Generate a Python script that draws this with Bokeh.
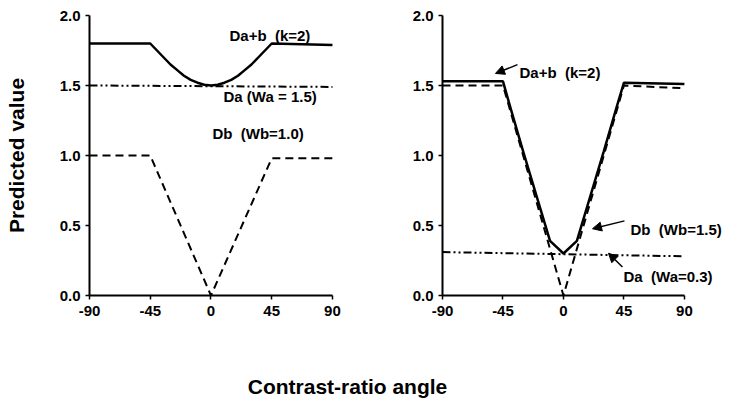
from bokeh.plotting import figure
from bokeh.layouts import row, column
from bokeh.models import Range1d, FixedTicker, Label, Arrow, NormalHead, PrintfTickFormatter
from bokeh.embed import file_html
from bokeh.resources import INLINE

# ---- data ----
x_ticks = [-90, -45, 0, 45, 90]
x_tick_labels = ["-90", "-45", "0", "45", "90"]
y_ticks = [0.0, 0.5, 1.0, 1.5, 2.0]

# left panel
L_sum_x = [-90, -45, -40, -35, -30, -25, -20, -15, -10, -5, 0, 5, 10, 15, 20, 25, 30, 35, 40, 45, 90]
L_sum_y = [1.80, 1.80, 1.75, 1.70, 1.65, 1.61, 1.57, 1.54, 1.52, 1.505, 1.50, 1.505, 1.52, 1.54, 1.57, 1.61, 1.65, 1.70, 1.75, 1.80, 1.79]
L_da_x = [-90, 90]
L_da_y = [1.50, 1.49]
L_db_x = [-90, -45, 0, 45, 90]
L_db_y = [1.00, 1.00, 0.0, 0.98, 0.98]

# right panel
R_sum_x = [-90, -45, -40, -30, -20, -10, 0, 10, 20, 30, 40, 45, 90]
R_sum_y = [1.53, 1.53, 1.36, 1.03, 0.71, 0.39, 0.30, 0.39, 0.71, 1.03, 1.36, 1.52, 1.51]
R_da_x = [-90, 90]
R_da_y = [0.31, 0.28]
R_db_x = [-90, -45, 0, 45, 90]
R_db_y = [1.50, 1.50, 0.0, 1.50, 1.48]

FONT = "Liberation Sans"
NB = "\u00a0"


def make_panel(width, height, xmax, bl, br, bt, bb):
    p = figure(width=width, height=height, x_range=Range1d(-90, xmax), y_range=Range1d(0, 2),
               toolbar_location=None, output_backend="svg",
               min_border_left=bl, min_border_right=br, min_border_top=bt, min_border_bottom=bb)
    p.outline_line_color = None
    p.grid.visible = False
    p.background_fill_color = "white"
    p.border_fill_color = "white"
    for ax in (p.xaxis[0], p.yaxis[0]):
        ax.axis_line_width = 2
        ax.axis_line_color = "black"
        ax.major_tick_line_width = 1.5
        ax.major_tick_line_color = "black"
        ax.major_tick_in = 0
        ax.major_tick_out = 4
        ax.minor_tick_line_color = None
        ax.major_label_text_font = FONT
        ax.major_label_text_font_style = "bold"
        ax.major_label_text_font_size = "15px"
        ax.major_label_text_color = "black"
    p.xaxis.bounds = (x_ticks[0], x_ticks[-1])
    p.xaxis.ticker = FixedTicker(ticks=x_ticks)
    p.xaxis.major_label_overrides = {t: s for t, s in zip(x_ticks, x_tick_labels)}
    p.yaxis.ticker = FixedTicker(ticks=y_ticks)
    p.yaxis.formatter = PrintfTickFormatter(format="%.1f")
    p.xaxis.major_label_standoff = 6
    p.yaxis.major_label_standoff = 5
    return p


def add_label(p, x, y, text, size="15px"):
    p.add_layout(Label(x=x, y=y, text=text, text_font=FONT, text_font_style="bold",
                       text_font_size=size, text_color="black", text_baseline="alphabetic"))


DOTDASH = "8 3 2 3 2 3"

# ---- left panel ----
p1 = make_panel(365, 345, 113, 89, 2, 13, 50)
p1.yaxis.axis_label = "Predicted value"
p1.yaxis.axis_label_text_font = FONT
p1.yaxis.axis_label_text_font_style = "bold"
p1.yaxis.axis_label_text_font_size = "21px"
p1.yaxis.axis_label_text_color = "black"
p1.yaxis.axis_label_standoff = 29
p1.line(L_da_x, L_da_y, line_color="black", line_width=2, line_dash=DOTDASH)
p1.line(L_db_x, L_db_y, line_color="black", line_width=2, line_dash="8 5")
p1.line(L_sum_x, L_sum_y, line_color="black", line_width=2.5)
add_label(p1, 13.7, 1.858, "Da+b" + NB + NB + "(k=2)")
add_label(p1, 9.3, 1.418, "Da" + NB + "(Wa" + NB + "=" + NB + "1.5)")
add_label(p1, 1.1, 1.156, "Db" + NB + NB + "(Wb=1.0)")

# ---- right panel ----
p2 = make_panel(365, 345, 122.8, 77, 2, 15, 45)
p2.line(R_da_x, R_da_y, line_color="black", line_width=2, line_dash=DOTDASH)
p2.line(R_db_x, R_db_y, line_color="black", line_width=2, line_dash="8 5")
p2.line(R_sum_x, R_sum_y, line_color="black", line_width=2.5)
add_label(p2, -32.7, 1.593, "Da+b" + NB + NB + "(k=2)")
add_label(p2, 49.9, 0.47, "Db" + NB + NB + "(Wb=1.5)")
add_label(p2, 44.7, 0.133, "Da" + NB + NB + "(Wa=0.3)")
for (xs, ys, xe, ye) in [(-34.2, 1.649, -50.6, 1.586), (45.4, 0.533, 21.6, 0.477), (43.9, 0.204, 33.5, 0.302)]:
    p2.add_layout(Arrow(end=NormalHead(size=9, fill_color="black", line_color="black"),
                        x_start=xs, y_start=ys, x_end=xe, y_end=ye,
                        line_color="black", line_width=1.5))

# ---- bottom strip with the shared x-axis title ----
p3 = figure(width=730, height=53, x_range=Range1d(0, 730), y_range=Range1d(0, 53),
            toolbar_location=None, output_backend="svg", x_axis_type=None, y_axis_type=None,
            min_border=0)
p3.outline_line_color = None
p3.grid.visible = False
p3.add_layout(Label(x=347, y=12, text="Contrast-ratio angle", text_font=FONT, text_font_style="bold",
                    text_font_size="21px", text_color="black", text_align="center",
                    text_baseline="alphabetic"))

layout = column(row(p1, p2), p3)
open("out.html", "w").write(file_html(layout, INLINE))
